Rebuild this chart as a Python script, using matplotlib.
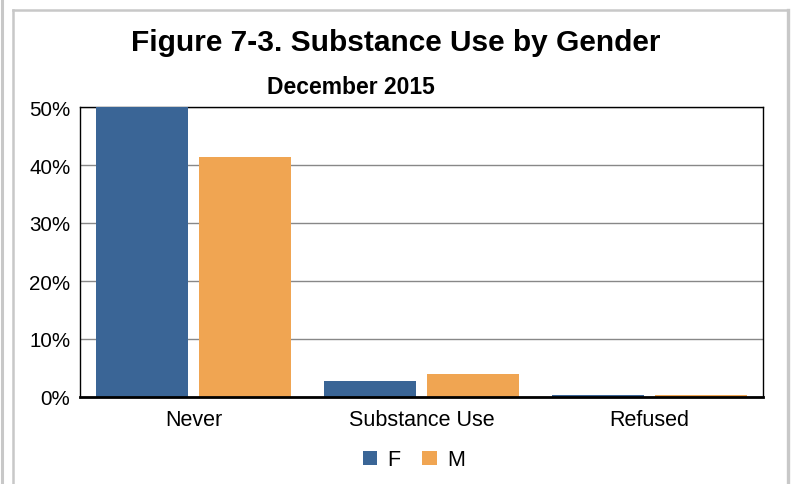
import matplotlib
matplotlib.use("Agg")
import matplotlib.pyplot as plt
from matplotlib.lines import Line2D
from matplotlib.patches import Patch
import numpy as np

plt.rcParams["font.family"] = ["Liberation Sans", "DejaVu Sans"]

# Share of respondents (%) by substance-use status and gender
categories = ["Never", "Substance Use", "Refused"]
female = [50.5, 2.8, 0.4]
male = [41.4, 3.9, 0.4]
series_names = ["F", "M"]
y_ticks = [0, 10, 20, 30, 40, 50]

blue = "#3A6596"
orange = "#F0A552"
frame_gray = "#C8C8C8"

W, H = 794, 485
fig = plt.figure(figsize=(W / 100, H / 100), dpi=100)

# page frame lines
def fx(px):
    return px / W

def fy(py):
    return 1 - py / H

fig.add_artist(Line2D([fx(2), fx(2)], [fy(0), fy(H)], color=frame_gray, lw=2.2))
fig.add_artist(Line2D([fx(13), fx(13)], [fy(11), fy(H)], color=frame_gray, lw=1.8))
fig.add_artist(Line2D([fx(13), fx(787.5)], [fy(11), fy(11)], color=frame_gray, lw=1.8))
fig.add_artist(Line2D([fx(787.5), fx(787.5)], [fy(11), fy(H)], color=frame_gray, lw=2.4))

left, right, top, bottom = 80, 763, 108, 398
ax = fig.add_axes([fx(left), fy(bottom), (right - left) / W, (bottom - top) / H])

x = np.arange(len(categories))
bw = 0.404
off = 0.226
ax.bar(x - off, female, width=bw, color=blue, zorder=3)
ax.bar(x + off, male, width=bw, color=orange, zorder=3)

ax.set_xlim(-0.5, len(categories) - 0.5)
ax.set_ylim(0, 50)
ax.set_yticks(y_ticks)
ax.set_yticklabels([f"{v}%" for v in y_ticks], fontsize=14.8)
ax.set_xticks(x)
ax.set_xticklabels(categories, fontsize=15.5)
ax.tick_params(axis="both", length=0)
ax.tick_params(axis="y", pad=7)
ax.tick_params(axis="x", pad=9)

ax.yaxis.grid(True, color="#888888", lw=1.0, zorder=1)
for s in ["left", "top", "right"]:
    ax.spines[s].set_color("black")
    ax.spines[s].set_linewidth(1.0)
ax.spines["bottom"].set_color("black")
ax.spines["bottom"].set_linewidth(2.0)
ax.spines["bottom"].set_zorder(4)

fig.text(fx(396), fy(43), "Figure 7-3. Substance Use by Gender", ha="center",
         va="center", fontsize=21.5, fontweight="bold")
fig.text(fx(351), fy(87), "December 2015", ha="center", va="center",
         fontsize=16.5, fontweight="bold")

handles = [Patch(facecolor=blue, edgecolor="none"), Patch(facecolor=orange, edgecolor="none")]
fig.legend(handles, series_names, loc="center", bbox_to_anchor=(fx(414), fy(461)),
           ncol=2, frameon=False, fontsize=15.5, handlelength=0.68, handleheight=0.68,
           handletextpad=0.48, columnspacing=1.0)

fig.savefig("out.png", dpi=100)
